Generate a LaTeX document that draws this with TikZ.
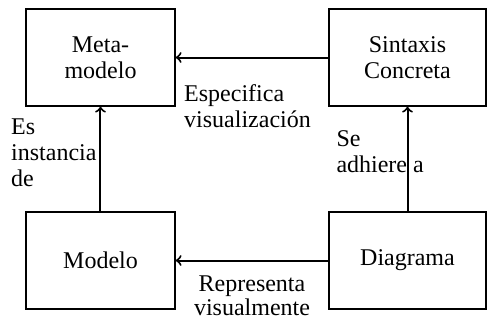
\documentclass[tikz,border=0pt]{standalone}
\usepackage{fontspec}
\setmainfont{Liberation Serif}
\usetikzlibrary{arrows}

\begin{document}
\begin{tikzpicture}[->,>=to,shorten >=0pt,line width=1pt,
                    every node/.style={font=\fontsize{12}{13}\selectfont},
                    caja/.style={rectangle,draw,line width=0.6pt,align=center,
                                 minimum width=74.5pt,minimum height=48.5pt},
                    etiq/.style={inner sep=0pt,align=left}]

  \useasboundingbox (-50.25pt,28.75pt) rectangle (193.75pt,-131.75pt);

  \node[caja] (meta)                                          {Meta-\\modelo};
  \node[caja] (modelo) [below of=meta, node distance=101.5pt] {Modelo};
  \node[caja, minimum width=78.5pt] (sintaxis) [right of=meta, node distance=153.5pt]  {Sintaxis\\Concreta};
  \node[caja, minimum width=78.5pt] (diagrama) [right of=modelo, node distance=153.5pt] {Diagrama};

  \path (modelo)   edge node[etiq, anchor=north east, pos=0.89, xshift=-1.5pt] {Es\\instancia\\de} (meta)
        (sintaxis) edge node[etiq, anchor=north west, pos=0.95, yshift=-13pt] {Especifica\\visualización} (meta)
        (diagrama) edge node[etiq, anchor=north west, pos=0.78, xshift=-36pt] {Se\\adhiere a} (sintaxis)
        (diagrama) edge node[etiq, align=center, anchor=north, midway, yshift=-7pt,
                             font=\fontsize{12}{12}\selectfont] {Representa\\visualmente} (modelo);
\end{tikzpicture}
\end{document}
